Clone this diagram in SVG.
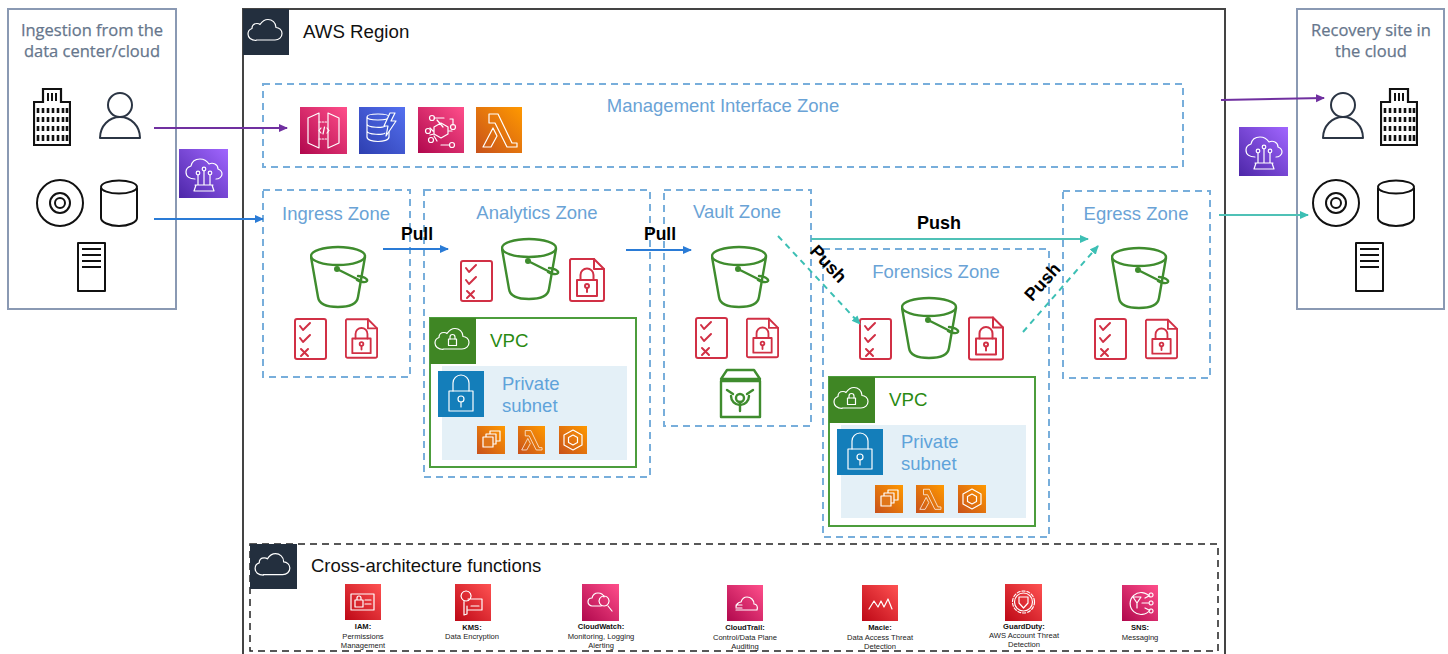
<svg xmlns="http://www.w3.org/2000/svg" xmlns:xlink="http://www.w3.org/1999/xlink" width="1448" height="654" viewBox="0 0 1448 654">
<style>
text{font-family:"Liberation Sans",Arial,sans-serif}
.site{fill:#fff;stroke:#8a99b3;stroke-width:2}
.sitet{font-family:"Open Sans","Noto Sans",sans-serif;font-size:16.5px;fill:#66768c;text-anchor:middle;stroke:#66768c;stroke-width:.25}
.zone{fill:none;stroke:#78aedb;stroke-width:2;stroke-dasharray:7 5}
.zt{font-size:18.500px;fill:#6aa3d6;text-anchor:middle}
.rt{font-size:18.700px;fill:#111}
.pull{font-size:17.500px;font-weight:700;fill:#000;text-anchor:middle}
.vpc{fill:#fff;stroke:#4c9d3c;stroke-width:2}
.vpct{font-size:18.700px;fill:#2a8a12}
.subnet{fill:#e4f0f7}
.subt{font-size:18.500px;fill:#5fa3da}
.k{fill:none;stroke:#111;stroke-width:2;stroke-linejoin:round}
.w{fill:none;stroke:#fff;stroke-width:1.2;stroke-linejoin:round;stroke-linecap:round}
.g{fill:none;stroke:#3f8c2e;stroke-width:2.4;stroke-linejoin:round;stroke-linecap:round}
.r{fill:#fff;stroke:#d13045;stroke-width:2;stroke-linejoin:round;stroke-linecap:round}
.r2{fill:none;stroke:#d13045;stroke-width:2;stroke-linejoin:round;stroke-linecap:round}
.c{stroke-width:2;fill:none}
.lab{font-size:7.6px;fill:#222;text-anchor:middle}
.labb{font-size:7.6px;font-weight:700;fill:#111;text-anchor:middle}
</style>
<defs>
<linearGradient id="pk" x1="0" y1="1" x2="1" y2="0"><stop offset="0" stop-color="#b0084d"/><stop offset="1" stop-color="#ff4f8b"/></linearGradient>
<linearGradient id="bl" x1="0" y1="1" x2="1" y2="0"><stop offset="0" stop-color="#2e3fb0"/><stop offset="1" stop-color="#5470f0"/></linearGradient>
<linearGradient id="or" x1="0" y1="1" x2="1" y2="0"><stop offset="0" stop-color="#c8511b"/><stop offset="1" stop-color="#ff9900"/></linearGradient>
<linearGradient id="rd" x1="0" y1="1" x2="1" y2="0"><stop offset="0" stop-color="#bd0816"/><stop offset="1" stop-color="#ff5252"/></linearGradient>
<linearGradient id="pu" x1="0" y1="1" x2="1" y2="0"><stop offset="0" stop-color="#4d27a8"/><stop offset="1" stop-color="#a166ff"/></linearGradient>
<marker id="mP" markerWidth="9" markerHeight="9" refX="8" refY="4" orient="auto" markerUnits="userSpaceOnUse"><path d="M0 0L9 4L0 8z" fill="#7030a0"/></marker>
<marker id="mB" markerWidth="9" markerHeight="9" refX="8" refY="4" orient="auto" markerUnits="userSpaceOnUse"><path d="M0 0L9 4L0 8z" fill="#2a7bd6"/></marker>
<marker id="mT" markerWidth="9" markerHeight="9" refX="8" refY="4" orient="auto" markerUnits="userSpaceOnUse"><path d="M0 0L9 4L0 8z" fill="#3cbfb4"/></marker>
<symbol id="cloud" viewBox="0 0 46 46" overflow="visible"><path class="w" d="M13 31h19c4 0 7-3 7-6.500c0-3.500-3-6-6-6c0-5-4-8-8-8c-4 0-6 2-8 5c-1-1-2-1-3-1c-3 0-5 2-5 5c-3 1-4 3-4 5.500c0 3.500 3 6.500 8 6.500z"/></symbol>
<symbol id="lockcloud" viewBox="0 0 46 46" overflow="visible"><use xlink:href="#cloud" width="46" height="46"/><rect class="w" x="18.500" y="21" width="8" height="6.500"/><path class="w" d="M20 21v-2a2.500 2.500 0 0 1 5 0v2"/></symbol>
<symbol id="bucket" viewBox="1 0 60 64"><ellipse class="g" cx="29" cy="11" rx="27" ry="9"/><path class="g" d="M2 12L9 52c1 7 9 10 20 10s19-3 20-10L56 12"/><circle cx="28" cy="24" r="3" fill="#3f8c2e"/><path class="g" d="M28 24L52 36"/><path class="g" d="M49 31c5 0 10 3 9 5c-1 2-7 1-10-1"/></symbol>
<symbol id="check" viewBox="0 0 33 42"><rect class="r" x="1" y="1" width="31" height="40" rx="2"/><path class="r2" d="M6 8l3 4l7-7M6 20l3 4l7-7"/><path class="r2" d="M7 31l7 7M14 31l-7 7" stroke-width="2.400"/></symbol>
<symbol id="lockdoc" viewBox="0 0 36 44"><path class="r" d="M2 1H25L35 11V41a2 2 0 0 1-2 2H3a2 2 0 0 1-2-2V2z"/><path class="r2" d="M25 1v10h10"/><rect class="r2" x="8" y="22" width="20" height="16"/><path class="r2" d="M11.500 22v-5a6.500 6.500 0 0 1 13 0v5"/><circle class="r2" cx="18" cy="28" r="2"/><path class="r2" d="M18 30v4"/></symbol>
<symbol id="lambda" viewBox="0 0 46 46"><path class="w" d="M13 7h9l14 29h5v4H31L19 16H13zM17 21l4 8l-6 11H7z" stroke-width="1.500"/></symbol>
<symbol id="ec2" viewBox="0 0 28 28"><g class="w" stroke-width=".9"><rect x="13" y="5" width="10" height="10"/><rect x="9" y="8" width="10" height="10" fill="#e0761a"/><rect x="6" y="11" width="10" height="10" fill="#e0761a"/></g></symbol>
<symbol id="hexa" viewBox="0 0 28 28"><path class="w" d="M14 4l9 5v10l-9 5l-9-5V9z"/><path class="w" d="M14 9l4.500 2.500v5L14 19l-4.500-2.500v-5z"/></symbol>
<symbol id="lock" viewBox="0 0 46 46"><rect class="w" x="11" y="20" width="24" height="20"/><path class="w" d="M15 20V12a8 8 0 0 1 16 0v8"/><circle class="w" cx="23" cy="28" r="3"/><path class="w" d="M23 31v5"/></symbol>
<symbol id="bridge" viewBox="0 0 49 49"><path class="w" d="M16 30c-5 0-9-2-9-7c0-3 2-5 5-6c1-5 5-7 9-7c4 0 7 2 9 5c2-1 4-1 6 0c2 1 3 3 3 5c3 1 4 3 4 5c0 3-3 5-6 5"/><circle class="w" cx="19" cy="24" r="1.800"/><circle class="w" cx="25" cy="20" r="1.800"/><circle class="w" cx="31" cy="24" r="1.800"/><path class="w" d="M19 26v10M25 22v14M31 26v10M16 36h18M15 42l2-6M35 42l-2-6M15 42h20"/></symbol>
<symbol id="building" viewBox="0 0 38 60"><path d="M1 58V15H10V2H28V15H37V58z" fill="#fff" stroke="#111" stroke-width="2.200"/><path d="M15 6v8M19 6v8M23 6v8" stroke="#111" stroke-width="2"/><path d="M5 21v5M10 21v5M15 21v5M20 21v5M25 21v5M30 21v5M34 21v5M5 30v5M10 30v5M15 30v5M20 30v5M25 30v5M30 30v5M34 30v5M5 39v5M10 39v5M15 39v5M20 39v5M25 39v5M30 39v5M34 39v5M5 48v6M10 48v6M15 48v6M20 48v6M25 48v6M30 48v6M34 48v6" stroke="#111" stroke-width="2.600" fill="none"/></symbol>
<symbol id="user" viewBox="0 0 44 48"><path d="M2 46c0-12 9-21 20-21s20 9 20 21z" fill="#fff" stroke="#2b3544" stroke-width="2" stroke-linejoin="round"/><circle cx="22" cy="13" r="12" fill="#fff" stroke="#2b3544" stroke-width="2"/></symbol>
<symbol id="disc" viewBox="0 0 48 48"><circle class="k" cx="24" cy="24" r="23"/><circle class="k" cx="24" cy="24" r="10"/><circle class="k" cx="24" cy="24" r="5"/></symbol>
<symbol id="db" viewBox="0 0 38 48"><path class="k" d="M1 9V39c0 4 8 8 18 8s18-4 18-8V9"/><ellipse class="k" cx="19" cy="8" rx="18" ry="6.500"/></symbol>
<symbol id="server" viewBox="0 0 30 50"><rect class="k" x="1" y="1" width="27" height="48"/><path d="M5 7H24M5 13H24M5 19H24M5 25H24" stroke="#111" stroke-width="2"/></symbol>
</defs>

<rect width="1448" height="654" fill="#fff"/>

<g id="ingestion-site">
<rect class="site" x="8" y="9" width="168" height="300"/>
<text class="sitet" x="92" y="36">Ingestion from the</text>
<text class="sitet" x="92" y="57">data center/cloud</text>
<use xlink:href="#building" x="33" y="87" width="38" height="60"/>
<use xlink:href="#user" x="98" y="92" width="44" height="48"/>
<use xlink:href="#disc" x="36" y="179" width="48" height="48"/>
<use xlink:href="#db" x="100" y="179" width="38" height="48"/>
<use xlink:href="#server" x="77" y="242" width="30" height="50"/>
</g>

<g id="region">
<rect x="243" y="9" width="982" height="660" fill="#fff" stroke="#444" stroke-width="2"/>
<rect x="243" y="9" width="46" height="46" fill="#232f3e"/>
<use xlink:href="#cloud" x="243" y="9" width="46" height="46"/>
<text class="rt" x="303" y="38">AWS Region</text>
</g>

<g id="recovery-site">
<rect class="site" x="1297" y="9" width="147" height="300"/>
<text class="sitet" x="1371" y="36">Recovery site in</text>
<text class="sitet" x="1371" y="57">the cloud</text>
<use xlink:href="#user" x="1321" y="92" width="44" height="48"/>
<use xlink:href="#building" x="1380" y="87" width="38" height="60"/>
<use xlink:href="#disc" x="1312" y="179" width="48" height="48"/>
<use xlink:href="#db" x="1377" y="179" width="38" height="48"/>
<use xlink:href="#server" x="1355" y="242" width="30" height="50"/>
</g>

<g id="bridge-left"><rect x="179" y="149" width="49" height="49" fill="url(#pu)"/><use xlink:href="#bridge" x="179" y="149" width="49" height="49"/></g>
<g id="bridge-right"><rect x="1239" y="127" width="49" height="49" fill="url(#pu)"/><use xlink:href="#bridge" x="1239" y="127" width="49" height="49"/></g>

<g id="management-zone">
<rect class="zone" x="263" y="84" width="920" height="83"/>
<text class="zt" x="723" y="112">Management Interface Zone</text>
<rect x="300" y="107" width="47" height="47" fill="url(#pk)"/>
<path class="w" d="M308 118l11-5v35l-11-5zM339 118l-11-5v35l11-5z"/>
<path class="w" stroke-dasharray="1.500 1.500" d="M319 122h9M319 139h9"/>
<path class="w" stroke-width=".9" d="M321 128l-2 2.500l2 2.500M327 128l2 2.500l-2 2.500M324.500 127l-1.500 7"/>
<rect x="359" y="107" width="46" height="47" fill="url(#bl)"/>
<path class="w" d="M367 117c0-4 22-4 22 0v20c0 6-22 6-22 0zM367 117c0 4 22 4 22 0M367 124c0 4 18 4 18 2M367 131c0 4 18 4 18 2"/>
<path d="M390 113l-6 13h4l-2 10l10-15h-5l4-8z" fill="#3a55d0" stroke="#fff" stroke-width="1.200" stroke-linejoin="round"/>
<rect x="418" y="107" width="46" height="46" fill="url(#pk)"/>
<path class="w" d="M441 123l7 4v7l-7 4l-7-4v-7zM434 118h10v0M450 119h3v6M441 145h8M443 127l-6-7M437 141l-3-5M449 131h3M430 128l3 3M430 135l4-1"/>
<g class="w"><circle cx="432" cy="118" r="2.500"/><circle cx="453" cy="127" r="2.500"/><circle cx="428" cy="131" r="2.500"/><circle cx="452" cy="145" r="2.500"/><circle cx="431" cy="140" r="2.500"/></g>
<rect x="476" y="107" width="46" height="46" fill="url(#or)"/>
<use xlink:href="#lambda" x="476" y="107" width="46" height="46"/>
</g>

<g id="ingress-zone">
<rect class="zone" x="263" y="190" width="147" height="187"/>
<text class="zt" x="336" y="220">Ingress Zone</text>
<use xlink:href="#bucket" x="310" y="245" width="60" height="64"/>
<use xlink:href="#check" x="294" y="318" width="33" height="42"/>
<use xlink:href="#lockdoc" x="345" y="317" width="33" height="43"/>
</g>

<g id="analytics-zone">
<rect class="zone" x="424" y="190" width="226" height="287"/>
<text class="zt" x="537" y="219">Analytics Zone</text>
<use xlink:href="#bucket" x="501" y="237" width="60" height="64"/>
<use xlink:href="#check" x="460" y="260" width="33" height="42"/>
<use xlink:href="#lockdoc" x="569" y="258" width="36" height="44"/>
<rect class="vpc" x="430" y="318" width="206" height="149"/>
<rect x="430" y="318" width="46" height="46" fill="#3f8624"/>
<use xlink:href="#lockcloud" x="430" y="318" width="46" height="46"/>
<text class="vpct" x="490" y="347">VPC</text>
<rect class="subnet" x="442" y="366" width="185" height="94"/>
<rect x="438" y="371" width="46" height="46" fill="#147eba"/>
<use xlink:href="#lock" x="438" y="371" width="46" height="46"/>
<text class="subt" x="502" y="390">Private</text>
<text class="subt" x="502" y="412">subnet</text>
<rect x="477" y="426" width="28" height="28" fill="url(#or)"/><use xlink:href="#ec2" x="477" y="426" width="28" height="28"/>
<rect x="518" y="426" width="27" height="28" fill="url(#or)"/><use xlink:href="#lambda" x="518" y="426" width="27" height="28"/>
<rect x="559" y="426" width="28" height="28" fill="url(#or)"/><use xlink:href="#hexa" x="559" y="426" width="28" height="28"/>
</g>

<g id="vault-zone">
<rect class="zone" x="664" y="190" width="147" height="236"/>
<text class="zt" x="737" y="218">Vault Zone</text>
<use xlink:href="#bucket" x="711" y="245" width="60" height="64"/>
<use xlink:href="#check" x="695" y="317" width="33" height="42"/>
<use xlink:href="#lockdoc" x="746" y="317" width="33" height="42"/>
<path class="g" stroke-width="2" d="M721 381h39v36h-39zM721 379h39l-6-9h-27z"/>
<circle class="g" stroke-width="2" cx="740" cy="398" r="4"/><path class="g" stroke-width="2" d="M731 396a9 9 0 0 0 18 0"/>
<path class="g" stroke-width="2" d="M740 402v9M733 394l-6-4M747 394l6-4"/>
</g>

<g id="forensics-zone">
<rect class="zone" x="823" y="249" width="226" height="288"/>
<text class="zt" x="936" y="278">Forensics Zone</text>
<use xlink:href="#bucket" x="901" y="296" width="60" height="64"/>
<use xlink:href="#check" x="859" y="318" width="33" height="42"/>
<use xlink:href="#lockdoc" x="968" y="316" width="36" height="45"/>
<rect class="vpc" x="829" y="377" width="206" height="149"/>
<rect x="829" y="377" width="46" height="46" fill="#3f8624"/>
<use xlink:href="#lockcloud" x="829" y="377" width="46" height="46"/>
<text class="vpct" x="889" y="406">VPC</text>
<rect class="subnet" x="841" y="425" width="185" height="93"/>
<rect x="837" y="429" width="46" height="46" fill="#147eba"/>
<use xlink:href="#lock" x="837" y="429" width="46" height="46"/>
<text class="subt" x="901" y="448">Private</text>
<text class="subt" x="901" y="470">subnet</text>
<rect x="875" y="485" width="28" height="28" fill="url(#or)"/><use xlink:href="#ec2" x="875" y="485" width="28" height="28"/>
<rect x="916" y="485" width="28" height="28" fill="url(#or)"/><use xlink:href="#lambda" x="916" y="485" width="28" height="28"/>
<rect x="958" y="485" width="28" height="28" fill="url(#or)"/><use xlink:href="#hexa" x="958" y="485" width="28" height="28"/>
</g>

<g id="egress-zone">
<rect class="zone" x="1063" y="191" width="147" height="187"/>
<text class="zt" x="1136" y="220">Egress Zone</text>
<use xlink:href="#bucket" x="1111" y="246" width="60" height="64"/>
<use xlink:href="#check" x="1094" y="318" width="33" height="42"/>
<use xlink:href="#lockdoc" x="1145" y="318" width="33" height="42"/>
</g>

<g id="cross-architecture">
<rect x="250" y="544" width="968" height="107" fill="none" stroke="#222" stroke-width="1.500" stroke-dasharray="7 5"/>
<rect x="250" y="544" width="47" height="45" fill="#232f3e"/>
<use xlink:href="#cloud" x="250" y="543" width="47" height="47"/>
<text x="311" y="572" font-size="18.500" fill="#111">Cross-architecture functions</text>
<g id="iam"><rect x="345" y="584" width="36" height="36" fill="url(#rd)"/><path class="w" d="M351 594h23v16h-23zM355 600h8v7h-8zM357 600v-2a2 2 0 0 1 4 0v2M365 600h6M365 604h6" stroke-width=".8"/><text class="labb" x="363" y="629">IAM:</text><text class="lab" x="363" y="639">Permissions</text><text class="lab" x="363" y="648">Management</text></g>
<g id="kms"><rect x="455" y="584" width="36" height="37" fill="url(#rd)"/><path class="w" d="M466 591a5 5 0 1 0 .1 0M464 601v14l3-1v-8M468 599h14v11h-14M471 606h8" stroke-width=".8"/><text class="labb" x="472" y="630">KMS:</text><text class="lab" x="472" y="639">Data Encryption</text></g>
<g id="cloudwatch"><rect x="582" y="584" width="37" height="37" fill="url(#pk)"/><path class="w" d="M601 606h-9c-2 0-4-2-4-4s1-4 4-4c1-4 4-5 6-5c3 0 5 1 6 4M604 596a5 5 0 1 0 .1 0M608 606l4 5" stroke-width=".8"/><text class="labb" x="601" y="629">CloudWatch:</text><text class="lab" x="601" y="639">Monitoring, Logging</text><text class="lab" x="601" y="648">Alerting</text></g>
<g id="cloudtrail"><rect x="727" y="585" width="36" height="36" fill="url(#pk)"/><path class="w" d="M736 610h21c1-3 0-6-3-6c0-4-3-7-7-7c-3 0-5 2-6 5c-3 0-5 3-5 5M736 605h6M736 608h6" stroke-width=".8"/><text class="labb" x="745" y="630">CloudTrail:</text><text class="lab" x="745" y="640">Control/Data Plane</text><text class="lab" x="745" y="649">Auditing</text></g>
<g id="macie"><rect x="862" y="585" width="36" height="36" fill="url(#rd)"/><path class="w" d="M869 609l5-8l4 6l3-6l3 6l4-8l4 10" stroke-width=".9"/><text class="labb" x="880" y="630">Macie:</text><text class="lab" x="880" y="640">Data Access Threat</text><text class="lab" x="880" y="649">Detection</text></g>
<g id="guardduty"><rect x="1005" y="584" width="37" height="37" fill="url(#rd)"/><circle class="w" cx="1023.500" cy="602" r="11" stroke-dasharray="3 2" stroke-width="1.600"/><circle class="w" cx="1023.500" cy="602" r="9" stroke-width=".8"/><path class="w" d="M1019 597h9v6l-4.500 5l-4.500-5z" stroke-width=".8"/><text class="labb" x="1024" y="629">GuardDuty:</text><text class="lab" x="1024" y="638">AWS  Account Threat</text><text class="lab" x="1024" y="647">Detection</text></g>
<g id="sns"><rect x="1122" y="585" width="36" height="36" fill="url(#pk)"/><path class="w" d="M1150 597a11 11 0 1 0 0 13M1133 597h8l-4 6zM1137 603v5M1142 603h6M1145 598l4-2M1145 608l4 2M1151 593a2 2 0 1 0 .1 0M1151 601a2 2 0 1 0 .1 0M1151 609a2 2 0 1 0 .1 0" stroke-width=".8"/><text class="labb" x="1140" y="630">SNS:</text><text class="lab" x="1140" y="640">Messaging</text></g>
</g>

<g id="connectors">
<path class="c" stroke="#7030a0" d="M154 128H287" marker-end="url(#mP)"/>
<path class="c" stroke="#2a7bd6" d="M154 219H263" marker-end="url(#mB)"/>
<path class="c" stroke="#2a7bd6" d="M383 249H448" marker-end="url(#mB)"/>
<path class="c" stroke="#2a7bd6" d="M626 250H691" marker-end="url(#mB)"/>
<path class="c" stroke="#4fc1b6" d="M811 239H1088" marker-end="url(#mT)"/>
<path class="c" stroke="#3cbfb4" stroke-dasharray="6 5" d="M778 236L860 324" marker-end="url(#mT)"/>
<path class="c" stroke="#3cbfb4" stroke-dasharray="6 5" d="M1023 332L1098 246" marker-end="url(#mT)"/>
<path class="c" stroke="#7030a0" d="M1221 100L1324 98" marker-end="url(#mP)"/>
<path class="c" stroke="#4fc1b6" d="M1219 215H1308" marker-end="url(#mT)"/>
<text class="pull" x="417" y="240">Pull</text>
<text class="pull" x="660" y="240">Pull</text>
<text class="pull" x="939" y="229" font-size="18" style="font-size:18px">Push</text>
<text class="pull" style="font-size:18px" transform="translate(824 268) rotate(47)">Push</text>
<text class="pull" style="font-size:18px" transform="translate(1047 286) rotate(-48)">Push</text>
</g>
</svg>
